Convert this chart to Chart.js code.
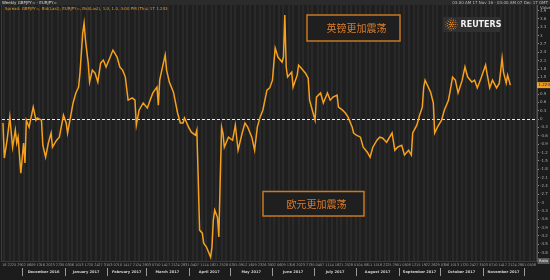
<!DOCTYPE html>
<html><head><meta charset="utf-8">
<script src="https://cdn.jsdelivr.net/npm/chart.js@4/dist/chart.umd.min.js"></script>
<style>html,body{margin:0;padding:0;background:#1d1d1d;overflow:hidden}#wrap{width:550px;height:280px;position:relative}canvas{display:block}</style>
</head><body><div id="wrap"><canvas id="c" width="550" height="280" style="width:550px;height:280px"></canvas></div>
<script>
// days since 17 Nov 2016 (x) and GBP/JPY - EUR/JPY spread (y)
const dayIndex = [0,1,3,5,7,9,10,11,13,15,16,17,19,22,24,25,28,29,31,33,35,36,39,41,44,46,47,49,51,53,55,56,57,58,59,60,62,63,65,67,69,71,73,75,78,80,83,85,87,89,91,94,96,97,99,102,105,107,109,112,113,114,116,118,119,121,124,127,129,131,132,135,137,140,141,142,143,145,146,148,151,152,153,154,156,157,158,159,160,161,164,167,169,171,174,176,178,181,183,185,187,189,192,194,196,197,198,200,203,204,205,206,207,210,211,214,215,217,220,222,223,225,227,228,231,233,236,238,240,243,244,247,249,251,254,255,257,260,262,265,267,269,272,274,276,279,283,285,287,290,292,295,297,298,301,303,305,306,307,308,311,313,314,316,319,321,324,325,327,329,331,334,336,338,341,343,345,348,351,352,354,356,359,361,363,364,366,367,369];
const spread = [-0.14,-1.40,-0.76,0.07,-1.01,-0.40,-0.86,-0.65,-1.94,-0.86,-1.58,-0.04,-0.29,0.43,-0.04,0.04,-0.04,-0.94,-1.37,-0.86,-0.50,-1.01,-0.76,-0.65,0.14,-0.14,-0.50,0.04,0.58,0.94,1.15,1.65,2.37,3.09,3.45,2.84,2.01,1.33,1.76,1.65,1.33,2.01,2.12,1.87,2.23,2.48,2.23,1.87,1.76,1.51,0.68,0.76,0.68,-0.22,0.32,0.58,0.40,0.68,0.94,1.15,0.50,1.40,1.87,2.30,1.76,1.33,0.97,0.22,-0.14,-0.14,0.04,-0.29,-0.47,-0.58,-0.40,-2.09,-3.99,-4.10,-4.46,-4.60,-4.96,-4.60,-3.63,-3.27,-3.53,-4.24,-2.19,-0.29,-0.50,-1.01,-0.65,-0.76,-0.22,-1.12,-0.50,-0.14,-0.29,-0.65,-1.12,-0.29,0.07,0.32,1.04,1.12,1.40,2.01,2.55,2.23,2.05,2.23,3.74,1.87,1.51,1.69,1.15,1.58,1.94,1.83,1.65,1.47,0.68,0.32,-0.04,0.79,0.94,0.58,0.94,0.68,0.79,0.86,0.43,0.32,0.22,0.07,-0.29,-0.50,-0.58,-0.65,-1.01,-1.19,-1.37,-1.01,-0.76,-0.65,-0.68,-0.83,-0.50,-1.12,-1.01,-0.94,-1.29,-1.12,-1.29,-0.50,-0.22,0.14,0.43,1.15,1.40,1.29,0.97,0.58,-0.50,-0.29,-0.04,0.32,0.68,0.94,1.51,1.40,0.94,1.40,1.87,1.51,1.33,1.40,1.12,1.51,1.94,1.65,1.12,1.40,1.12,1.29,2.19,1.69,1.29,1.58,1.22];
const yTickValues = [3.9,3.6,3.3,3,2.7,2.4,2.1,1.8,1.5,1.2,0.9,0.6,0.3,0,-0.3,-0.6,-0.9,-1.2,-1.5,-1.8,-2.1,-2.4,-2.7,-3,-3.3,-3.6,-3.9,-4.2,-4.5,-4.8];
const monthLabels = ['December 2016','January 2017','February 2017','March 2017','April 2017','May 2017','June 2017','July 2017','August 2017','September 2017','October 2017','November 2017'];
const monthStarts = [14,45,76,104,135,165,196,226,257,288,318,349,379];
const noteGBP = '英镑更加震荡';
const noteEUR = '欧元更加震荡';
const titleText = 'Weekly GBPJPY= - EURJPY=';
const subtitleText = 'Spread: GBPJPY=, Bid(Last), EURJPY=, Bid(Last), 1.0, 1.0, 3:00 PM (Thu) 17 1.243';
const rangeText = '03:00 AM 17 Nov 16 - 03:00 AM 07 Dec 17 GMT';
const START = Date.UTC(2016, 10, 17);

const xTickDays = [];
for (let d = 1; d <= 386; d++) { if (d % 7 === 1 || d % 7 === 5) xTickDays.push(d); }
const dayOfMonth = d => String(new Date(START + d * 86400000).getUTCDate()).padStart(2, '0');

const points = dayIndex.map((d, i) => ({ x: d, y: spread[i] }));

const deco = {
  id: 'deco',
  beforeDraw(chart) {
    const { ctx, chartArea: a } = chart;
    ctx.save();
    ctx.fillStyle = '#1c1c1c'; ctx.fillRect(0, 0, 550, 280);
    ctx.fillStyle = '#1f1f1f'; ctx.fillRect(a.left, a.top, a.right - a.left, a.bottom - a.top);
    ctx.restore();
  },
  beforeDatasetsDraw(chart) {
    const { ctx, chartArea: a, scales: { y } } = chart;
    const y0 = Math.round(y.getPixelForValue(0)) + 0.5;
    ctx.save();
    ctx.strokeStyle = '#e8e8e8'; ctx.lineWidth = 1; ctx.setLineDash([3, 2]);
    ctx.beginPath(); ctx.moveTo(a.left, y0); ctx.lineTo(a.right, y0); ctx.stroke();
    ctx.restore();
  },
  afterDraw(chart) {
    const { ctx, chartArea: a, scales: { x, y } } = chart;
    ctx.save();
    ctx.strokeStyle = '#3a3a3a'; ctx.lineWidth = 1;
    ctx.strokeRect(a.left - 0.5, a.top - 0.5, a.right - a.left, a.bottom - a.top + 1);
    ctx.fillStyle = '#2b2b2b'; ctx.fillRect(0, 0, 550, 5);
    ctx.textBaseline = 'middle';
    ctx.font = '4px "DejaVu Sans"'; ctx.fillStyle = '#d8d8d8'; ctx.textAlign = 'left';
    ctx.fillText(titleText, 2, 2.5);
    ctx.textAlign = 'right'; ctx.fillStyle = '#bbbbbb';
    ctx.fillText(rangeText, 548, 2.5);
    ctx.textAlign = 'left'; ctx.fillStyle = '#e39a2a';
    ctx.fillText(subtitleText, 5, 8.5);
    ctx.fillStyle = '#bbbbbb'; ctx.fillText('Value', 540, 7.5);
    const box = (bx, by, bw, bh, txt) => {
      ctx.fillStyle = '#1f1f1f'; ctx.fillRect(bx, by, bw, bh);
      ctx.strokeStyle = '#c97a22'; ctx.lineWidth = 1.5; ctx.strokeRect(bx, by, bw, bh);
      ctx.fillStyle = '#dc7a28'; ctx.font = '10px "Noto Sans CJK SC"';
      ctx.textAlign = 'center'; ctx.textBaseline = 'middle';
      ctx.fillText(txt, bx + bw / 2 + 3, by + bh / 2 + 0.5);
    };
    box(307, 15, 93, 26, noteGBP);
    box(263, 191.5, 101, 24.5, noteEUR);
    ctx.fillStyle = '#303030'; ctx.fillRect(443, 17, 57, 15);
    const cx = 451.5, cy = 24.5;
    ctx.fillStyle = '#e8892a';
    for (const [r, n, s] of [[0, 1, 1.1], [2.2, 6, 0.75], [4.2, 11, 0.6], [5.8, 16, 0.45]]) {
      for (let k = 0; k < n; k++) {
        const t = k / n * Math.PI * 2;
        ctx.beginPath(); ctx.arc(cx + r * Math.cos(t), cy + r * Math.sin(t), s, 0, Math.PI * 2); ctx.fill();
      }
    }
    ctx.fillStyle = '#f2f2f2'; ctx.font = 'bold 8px "DejaVu Sans"';
    ctx.textAlign = 'left'; ctx.textBaseline = 'middle';
    ctx.fillText('REUTERS', 460.5, 25);
    ctx.strokeStyle = '#9a9a9a'; ctx.lineWidth = 1;
    ctx.fillStyle = '#d0d0d0'; ctx.font = 'bold 3.6px "DejaVu Sans"'; ctx.textAlign = 'center';
    for (let i = 0; i < monthStarts.length; i++) {
      const px = Math.round(x.getPixelForValue(monthStarts[i])) + 0.5;
      if (px < a.right) { ctx.beginPath(); ctx.moveTo(px, 268); ctx.lineTo(px, 276); ctx.stroke(); }
      if (i < monthLabels.length) {
        const mid = (x.getPixelForValue(monthStarts[i]) + x.getPixelForValue(monthStarts[i + 1])) / 2;
        ctx.fillText(monthLabels[i], mid, 272);
      }
    }
    const last = spread[spread.length - 1];
    const ly = y.getPixelForValue(last);
    ctx.fillStyle = '#f0a02a'; ctx.fillRect(537, ly - 3, 13, 6);
    ctx.fillStyle = '#1a1a1a'; ctx.font = '4px "DejaVu Sans"'; ctx.textAlign = 'left';
    ctx.fillText(last.toFixed(4), 538.5, ly + 0.3);
    ctx.fillStyle = '#5a5a5a'; ctx.fillRect(537.5, 258, 12, 6);
    ctx.fillStyle = '#eeeeee'; ctx.font = '3.6px "DejaVu Sans"';
    ctx.fillText('Ratio', 539, 261.2);
    ctx.restore();
  }
};

new Chart(document.getElementById('c'), {
  type: 'line',
  data: { datasets: [{ data: points, borderColor: '#f5a01e', borderWidth: 1.5, pointRadius: 0, tension: 0, fill: false }] },
  options: {
    responsive: false, maintainAspectRatio: false, animation: false, devicePixelRatio: 1,
    layout: { padding: { left: 2, top: 5, right: 0, bottom: 0 } },
    plugins: { legend: { display: false }, tooltip: { enabled: false } },
    scales: {
      x: {
        type: 'linear', min: -0.7, max: 388.4,
        afterBuildTicks: s => { s.ticks = xTickDays.map(v => ({ value: v })); },
        afterFit: s => { s.height = 19; s.paddingLeft = 0; s.paddingRight = 0; },
        ticks: { autoSkip: false, maxRotation: 0, minRotation: 0, padding: 2, color: '#9a9a9a', font: { size: 3.6, family: 'DejaVu Sans' }, callback: v => dayOfMonth(v) },
        grid: { color: '#292929', lineWidth: 2, drawTicks: false },
        border: { display: false }
      },
      y: {
        position: 'right', min: -5.1, max: 4.1,
        afterBuildTicks: s => { s.ticks = yTickValues.map(v => ({ value: v })); },
        afterFit: s => { s.width = 13; },
        ticks: { autoSkip: false, padding: 1, color: '#a8a8a8', font: { size: 4, family: 'DejaVu Sans' }, callback: v => String(Math.round(v * 10) / 10) },
        grid: { drawOnChartArea: false, tickLength: 2, color: '#8a8a8a' },
        border: { display: true, color: '#555555' }
      }
    }
  },
  plugins: [deco]
});
</script>
</body></html>
